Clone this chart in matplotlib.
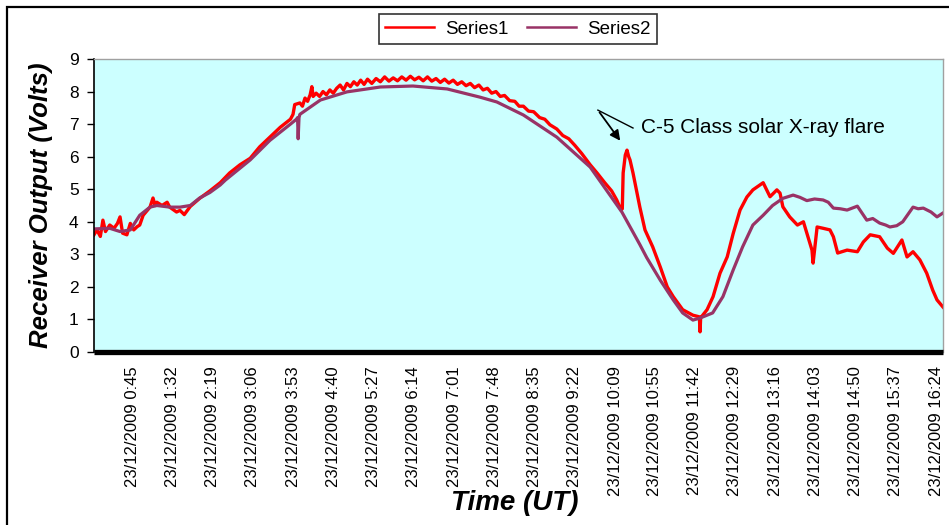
import matplotlib
matplotlib.use("Agg")
import matplotlib.pyplot as plt
from matplotlib.patches import Rectangle

plt.rcParams['font.family'] = ['Liberation Sans', 'DejaVu Sans']

# =========================
# DATA (minutes after 0:00 UT, volts)
# =========================
tick_labels = ["23/12/2009 0:45", "23/12/2009 1:32", "23/12/2009 2:19",
               "23/12/2009 3:06", "23/12/2009 3:53", "23/12/2009 4:40",
               "23/12/2009 5:27", "23/12/2009 6:14", "23/12/2009 7:01",
               "23/12/2009 7:48", "23/12/2009 8:35", "23/12/2009 9:22",
               "23/12/2009 10:09", "23/12/2009 10:55", "23/12/2009 11:42",
               "23/12/2009 12:29", "23/12/2009 13:16", "23/12/2009 14:03",
               "23/12/2009 14:50", "23/12/2009 15:37", "23/12/2009 16:24"]

s1_min = [0.6, 4, 8, 11, 14, 19, 24, 28, 31, 34, 39, 43, 47, 51, 54, 58, 66,
          69.5, 72, 74, 80, 86, 89, 97, 101, 106, 113, 124, 136, 148, 159, 171,
          183, 194, 206, 218, 230, 233, 235, 241, 244, 247, 250, 253, 255,
          256.5, 260, 264, 268, 272, 276, 280, 284, 288, 292, 296, 300, 304,
          308, 312, 316, 320, 325, 330, 335, 340, 345, 350, 355, 360, 365, 370,
          375, 380, 385, 390, 395, 400, 405, 410, 415, 420, 425, 430, 435, 440,
          445, 450, 455, 460, 465, 470, 475, 480, 486, 492, 497, 502, 508, 514,
          521, 527, 533, 541, 548, 555, 562, 570, 580, 588, 597, 605, 611, 616,
          617.5, 618.5, 621, 623, 625, 626.5, 630, 634.7, 638, 644, 653, 662,
          670, 677, 688, 700, 707.5, 708.3, 709, 716.5, 723.5, 731.6, 740, 747,
          755, 763, 770, 782, 790, 798, 801.7, 805, 813, 822, 829, 833, 839,
          840.3, 845, 852, 860, 864, 869, 880, 892, 899, 907, 918, 927, 934,
          944, 950, 957, 965, 973, 980, 985, 992]
s1_val = [3.6, 3.75, 3.55, 4.05, 3.7, 3.9, 3.8, 3.95, 4.15, 3.65, 3.6, 3.95,
          3.75, 3.85, 3.9, 4.2, 4.45, 4.73, 4.5, 4.6, 4.5, 4.6, 4.45, 4.3,
          4.35, 4.22, 4.47, 4.72, 4.95, 5.2, 5.5, 5.75, 5.95, 6.3, 6.6, 6.9,
          7.15, 7.3, 7.6, 7.65, 7.55, 7.8, 7.7, 7.9, 8.15, 7.85, 7.95, 7.85,
          8.0, 7.9, 8.05, 7.95, 8.1, 8.2, 8.05, 8.25, 8.15, 8.3, 8.2, 8.35,
          8.22, 8.38, 8.25, 8.4, 8.3, 8.45, 8.32, 8.42, 8.33, 8.45, 8.35, 8.47,
          8.36, 8.44, 8.33, 8.45, 8.32, 8.4, 8.28, 8.38, 8.26, 8.35, 8.22, 8.3,
          8.18, 8.25, 8.12, 8.2, 8.05, 8.1, 7.95, 8.0, 7.85, 7.88, 7.72, 7.7,
          7.55, 7.55, 7.4, 7.38, 7.2, 7.15, 6.98, 6.85, 6.65, 6.55, 6.35, 6.1,
          5.75, 5.5, 5.2, 4.95, 4.67, 4.36, 4.4, 5.5, 6.05, 6.2, 6.0, 5.9, 5.5,
          4.88, 4.45, 3.75, 3.23, 2.6, 2.0, 1.7, 1.3, 1.13, 1.08, 0.62, 1.05,
          1.3, 1.7, 2.42, 2.92, 3.64, 4.36, 4.76, 4.98, 5.2, 4.77, 4.98, 4.88,
          4.46, 4.15, 3.9, 4.0, 3.65, 3.13, 2.73, 3.84, 3.8, 3.75, 3.54, 3.04,
          3.13, 3.08, 3.38, 3.6, 3.54, 3.19, 3.03, 3.44, 2.92, 3.08, 2.83,
          2.42, 1.9, 1.6, 1.38]

s2_min = [0.6, 19, 31, 43, 54, 66, 74, 89, 101, 113, 124, 136, 148, 154, 183,
          206, 230, 237, 238.3, 239, 240, 241, 265, 296, 335, 373, 413, 451,
          471, 502, 541, 580, 617, 638, 646, 662, 677, 688, 700, 708, 723, 735,
          747, 758, 770, 782, 793, 805, 817, 825, 833, 842, 852, 858, 864, 872,
          880, 892, 903, 910, 918, 925, 930, 938, 945, 957, 963, 969, 978, 985,
          992]
s2_val = [3.78, 3.8, 3.7, 3.75, 4.2, 4.45, 4.5, 4.45, 4.45, 4.5, 4.73, 4.9,
          5.13, 5.28, 5.9, 6.5, 7.0, 7.15, 7.2, 6.55, 7.2, 7.3, 7.74, 7.99,
          8.14, 8.17, 8.08, 7.83, 7.68, 7.28, 6.6, 5.68, 4.3, 3.3, 2.9, 2.2,
          1.6, 1.2, 0.98, 1.04, 1.2, 1.7, 2.52, 3.23, 3.9, 4.2, 4.5, 4.72,
          4.82, 4.75, 4.65, 4.7, 4.67, 4.6, 4.42, 4.4, 4.36, 4.48, 4.05, 4.1,
          3.96, 3.9, 3.84, 3.88, 4.0, 4.45, 4.4, 4.42, 4.3, 4.15, 4.27]

# flare annotation (V shape: text leg and arrow leg)
flare_text = "C-5 Class solar X-ray flare"
apex = (589, 7.43)
text_leg_end = (630, 6.88)
arrow_tip = (617, 6.42)

# tick positions from the label text
tick_min = []
for lab in tick_labels:
    hh, mm = lab.split(" ")[1].split(":")
    tick_min.append(int(hh) * 60 + int(mm))

# =========================
# PLOT
# =========================
fig = plt.figure(figsize=(9.49, 5.25), dpi=100)
ax = fig.add_axes([94 / 949, 173 / 525, 849 / 949, 293 / 525])
ax.set_facecolor("#CCFFFF")

ax.plot(s1_min, s1_val, color="#FF0000", linewidth=2.4, label="Series1")
ax.plot(s2_min, s2_val, color="#993366", linewidth=2.3, label="Series2")

ax.set_xlim(0.6, 992)
ax.set_ylim(0, 9)
ax.set_yticks(range(0, 10))
ax.tick_params(axis="y", labelsize=12.5, length=5, width=1, direction="out", pad=6)
ax.set_xticks(tick_min)
ax.set_xticklabels(tick_labels, rotation=90, fontsize=12)
ax.tick_params(axis="x", length=0, pad=10)

for side in ["top", "right"]:
    ax.spines[side].set_color("#A0A0A0")
    ax.spines[side].set_linewidth(1)
ax.spines["left"].set_color("black")
ax.spines["left"].set_linewidth(1.2)
ax.spines["bottom"].set_color("black")
ax.spines["bottom"].set_linewidth(3.8)
ax.spines["bottom"].set_capstyle("butt")

# annotation
ax.plot([apex[0], text_leg_end[0]], [apex[1], text_leg_end[1]], color="black", linewidth=1)
ax.annotate("", xy=arrow_tip, xytext=apex,
            arrowprops=dict(arrowstyle="-|>", color="black", lw=1.3, mutation_scale=15))
ax.text(text_leg_end[0] + 9, text_leg_end[1] + 0.02, flare_text, fontsize=15,
        ha="left", va="center")

fig.text(41 / 949, 0.6086, "Receiver Output (Volts)", rotation=90, fontsize=18.5,
         fontweight="bold", fontstyle="italic", ha="center", va="center")
fig.text(515 / 949, 22 / 525, "Time (UT)", fontsize=20, fontweight="bold",
         fontstyle="italic", ha="center", va="center")

leg = fig.legend(loc="center", bbox_to_anchor=(518 / 949, 496 / 525), ncol=2,
                 fontsize=13.5, frameon=True, fancybox=False, edgecolor="black",
                 handlelength=2.6, columnspacing=1.0, borderpad=0.35,
                 handletextpad=0.6)
leg.get_frame().set_linewidth(1.2)
for line in leg.get_lines():
    line.set_linewidth(1.8)

# outer chart border
fig.patches.append(Rectangle((7 / 949, -0.05), 1.1, (525 - 7) / 525 + 0.05,
                             transform=fig.transFigure, fill=False,
                             edgecolor="black", linewidth=1.6))

plt.savefig("out.png", dpi=100)
